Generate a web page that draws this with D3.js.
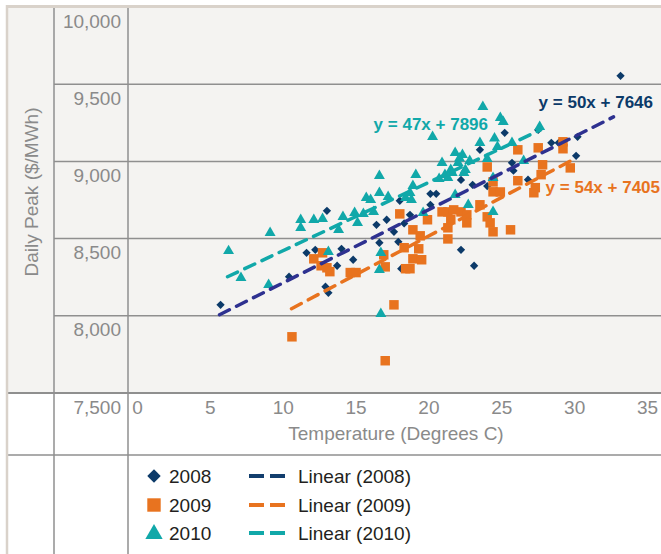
<!DOCTYPE html>
<html><head><meta charset="utf-8">
<script src="https://cdn.jsdelivr.net/npm/d3@7"></script>
<style>
html,body{margin:0;padding:0;background:#fff;}
svg{display:block;font-family:"Liberation Sans",Arial,sans-serif;}
</style></head>
<body>
<script>
// ---- data ----
const seriesNames = ["2008", "2009", "2010"];
const yTicks = [10000, 9500, 9000, 8500, 8000, 7500];
const xTicks = [0, 5, 10, 15, 20, 25, 30, 35];
const data2008 = [[5.7,8071],[33.15,9554],[10.4,8253],[13.0,8680],[11.6,8408],[12.2,8427],[14.0,8434],[14.8,8363],[13.7,8324],[12.9,8188],[13.1,8149],[16.4,8589],[17.1,8622],[16.6,8473],[17.9,8479],[22.2,8880],[23.0,8848],[24.0,8840],[18.0,8745],[20.1,8790],[20.5,8790],[20.1,8719],[18.7,8654],[17.6,8544],[18.3,8598],[18.1,8305],[22.2,8427],[23.1,8324],[25.2,9185],[27.5,9204],[30.2,9159],[28.4,9120],[28.9,9120],[30.1,9036],[25.7,8991],[25.8,8940],[26.8,8881],[23.5,9075]];
const data2009 = [[10.6,7864],[17.0,7709],[17.6,8071],[12.1,8369],[12.7,8408],[13.0,8311],[13.2,8286],[12.6,8324],[14.6,8280],[15.0,8280],[17.0,8317],[16.9,8395],[18.0,8660],[18.3,8441],[19.3,8434],[18.9,8369],[19.5,8363],[18.4,8305],[18.7,8305],[21.3,8498],[18.9,8557],[19.4,8518],[19.9,8622],[20.9,8673],[21.3,8673],[21.7,8686],[22.2,8673],[22.6,8654],[21.5,8622],[21.3,8570],[22.6,8602],[23.5,8719],[24.4,8803],[24.9,8802],[24.0,8964],[24.0,8641],[24.2,8602],[24.4,8544],[25.6,8557],[26.1,9075],[27.5,9088],[29.2,9127],[29.2,9082],[29.7,8958],[27.8,8978],[27.7,8914],[26.1,8875],[27.3,8830],[27.2,8797],[24.4,8867]];
const data2010 = [[6.25,8420],[7.1,8246],[9.0,8201],[9.1,8537],[11.2,8621],[11.2,8570],[12.1,8621],[12.7,8628],[14.1,8641],[13.8,8557],[13.1,8414],[14.9,8667],[15.5,8660],[16.2,8673],[15.1,8602],[16.6,8906],[16.6,8796],[15.7,8764],[16.0,8751],[17.2,8770],[18.4,8764],[18.8,8751],[16.7,8408],[16.6,8298],[16.7,8013],[19.1,8913],[18.9,8842],[18.7,8796],[19.6,8667],[20.9,8991],[21.1,8913],[21.6,8926],[22.4,8926],[21.3,8894],[20.7,8887],[21.8,8784],[22.7,8719],[24.4,8674],[23.7,9353],[24.9,9282],[25.1,9256],[27.6,9224],[20.25,9159],[23.5,9120],[24.5,9150],[24.7,9094],[25.7,9120],[21.8,9056],[22.3,9043],[22.1,9020],[24.0,9017],[26.5,9004],[22.0,8991],[22.8,9004],[21.5,8945],[22.5,8945],[24.4,8894]];
const trend2008 = [[5.63,8007],[32.67,9288]];
const trend2009 = [[10.57,8046],[29.86,9010]];
const trend2010 = [[6.18,8253],[27.66,9204]];
const equations = ["y = 50x + 7646", "y = 54x + 7405", "y = 47x + 7896"];

// ---- styles ----
const colMarker = {"2008":"#0c3a69","2009":"#e8731f","2010":"#11a8a9"};
const colTrend = {"2008":"#2e3190","2009":"#e8731f","2010":"#11a8a9"};
const colLegendTrend = {"2008":"#123e6d","2009":"#e8731f","2010":"#11a8a9"};
const gridCol = "#8f8f8f", borderCol = "#d9d2ca", tickCol = "#8a8a8a";

const W = 661, H = 554;
const svg = d3.select("body").append("svg").attr("width", W).attr("height", H);

const x = d3.scaleLinear().domain([0, 35]).range([137.5, 647.5]);
const y = d3.scaleLinear().domain([7500, 10000]).range([393, 7]);

// backgrounds
svg.append("rect").attr("x",0).attr("y",0).attr("width",W).attr("height",H).attr("fill","#fff");
svg.append("rect").attr("x",7).attr("y",7).attr("width",W-7).attr("height",y(7500)-7).attr("fill","#f4f3f1");

// table / grid lines
const g = svg.append("g");
g.selectAll("line.grid").data(yTicks.filter(v => v > 7500 && v < 10000)).join("line")
  .attr("x1",54).attr("x2",W).attr("y1",d=>y(d)).attr("y2",d=>y(d))
  .attr("stroke",gridCol).attr("stroke-width",1.5);
g.append("line").attr("x1",7).attr("x2",W).attr("y1",y(7500)).attr("y2",y(7500)).attr("stroke",gridCol).attr("stroke-width",2);
g.append("line").attr("x1",7).attr("x2",W).attr("y1",455).attr("y2",455).attr("stroke",gridCol).attr("stroke-width",1.5);
[54,128].forEach(px => g.append("line").attr("x1",px).attr("x2",px).attr("y1",7).attr("y2",H).attr("stroke",gridCol).attr("stroke-width",1.5));
g.append("line").attr("x1",7).attr("x2",W).attr("y1",6.5).attr("y2",6.5).attr("stroke",borderCol).attr("stroke-width",3);
g.append("line").attr("x1",7).attr("x2",7).attr("y1",5).attr("y2",H).attr("stroke",borderCol).attr("stroke-width",2.5);

// tick labels
const fmt = d3.format(",");
svg.append("g").selectAll("text").data(yTicks).join("text")
  .attr("x",121).attr("y",d=>y(d)+20.5).attr("text-anchor","end")
  .attr("font-size",19).attr("fill",tickCol).text(d=>fmt(d));
svg.append("g").selectAll("text").data(xTicks).join("text")
  .attr("x",d=>x(d)).attr("y",414).attr("text-anchor","middle")
  .attr("font-size",19).attr("fill",tickCol).text(d=>d);

// axis titles
svg.append("text").attr("x",396).attr("y",440).attr("text-anchor","middle")
  .attr("font-size",19).attr("fill",tickCol).text("Temperature (Degrees C)");
svg.append("text").attr("transform","translate(38,192) rotate(-90)").attr("text-anchor","middle")
  .attr("font-size",19).attr("fill",tickCol).text("Daily Peak ($/MWh)");

// markers
const sym = {
  "2008": d3.symbol().type(d3.symbolDiamond2).size(44),
  "2009": d3.symbol().type(d3.symbolSquare).size(90),
  "2010": d3.symbol().type(d3.symbolTriangle).size(52)
};
const symLegend = {
  "2008": d3.symbol().type(d3.symbolDiamond2).size(115),
  "2009": d3.symbol().type(d3.symbolSquare).size(180),
  "2010": d3.symbol().type(d3.symbolTriangle).size(130)
};
const allData = {"2008":data2008,"2009":data2009,"2010":data2010};
seriesNames.forEach(s => {
  svg.append("g").selectAll("path").data(allData[s]).join("path")
    .attr("d", sym[s]())
    .attr("transform", d => `translate(${x(d[0])},${y(d[1])})`)
    .attr("fill", colMarker[s]);
});

// trend lines
const line = d3.line().x(d=>x(d[0])).y(d=>y(d[1]));
const trends = {"2008":trend2008,"2009":trend2009,"2010":trend2010};
["2008","2009","2010"].forEach(s => {
  svg.append("path").attr("d", line(trends[s])).attr("fill","none")
    .attr("stroke", colTrend[s]).attr("stroke-width",3.5)
    .attr("stroke-dasharray","11,8").attr("stroke-linecap","round");
});

// equation labels
const eqPos = [[653,108,"#0c3a69"],[660,193,"#e8731f"],[488,130,"#11a8a9"]];
equations.forEach((t,i) => {
  svg.append("text").attr("x",eqPos[i][0]).attr("y",eqPos[i][1]).attr("text-anchor","end")
    .attr("font-size",17).attr("font-weight","bold").attr("fill",eqPos[i][2]).text(t);
});

// legend
const legY = [476, 505, 533];
seriesNames.forEach((s,i) => {
  const ly = legY[i];
  svg.append("path").attr("d", symLegend[s]())
    .attr("transform", `translate(154,${ly + (s==="2010"?1:0)})`).attr("fill", colMarker[s]);
  svg.append("text").attr("x",169).attr("y",ly+7).attr("font-size",19).attr("fill","#231f20").text(s);
  svg.append("line").attr("x1",249).attr("x2",285).attr("y1",ly).attr("y2",ly)
    .attr("stroke",colLegendTrend[s]).attr("stroke-width",4).attr("stroke-dasharray","15,6");
  svg.append("text").attr("x",298).attr("y",ly+7).attr("font-size",19).attr("fill","#231f20").text(`Linear (${s})`);
});
</script>
</body></html>
